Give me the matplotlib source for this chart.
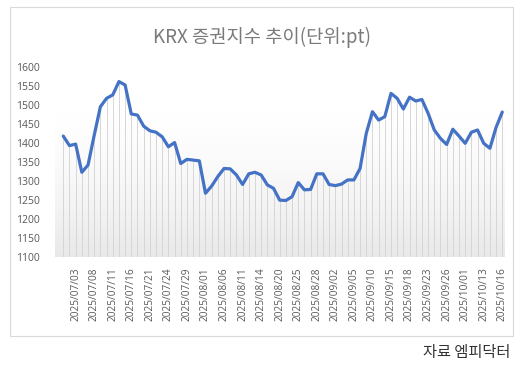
import matplotlib.pyplot as plt
import numpy as np
from matplotlib.colors import LinearSegmentedColormap
from matplotlib.patches import Rectangle

plt.rcParams["font.family"] = ["Noto Sans CJK KR", "DejaVu Sans"]

# trading days 2025-07-01 .. 2025-10-16
dates = [
    "07/01", "07/02", "07/03", "07/04", "07/07", "07/08", "07/09", "07/10", "07/11",
    "07/14", "07/15", "07/16", "07/17", "07/18", "07/21", "07/22", "07/23", "07/24",
    "07/25", "07/28", "07/29", "07/30", "07/31",
    "08/01", "08/04", "08/05", "08/06", "08/07", "08/08", "08/11", "08/12", "08/13",
    "08/14", "08/18", "08/19", "08/20", "08/21", "08/22", "08/25", "08/26", "08/27",
    "08/28", "08/29",
    "09/01", "09/02", "09/03", "09/04", "09/05", "09/08", "09/09", "09/10", "09/11",
    "09/12", "09/15", "09/16", "09/17", "09/18", "09/19", "09/22", "09/23", "09/24",
    "09/25", "09/26", "09/29", "09/30",
    "10/01", "10/02", "10/10", "10/13", "10/14", "10/15", "10/16",
]
dates = ["2025/" + d for d in dates]

values = [
    1418, 1393, 1397, 1323, 1342, 1420, 1495, 1517, 1526, 1561,
    1552, 1476, 1473, 1444, 1432, 1428, 1416, 1390, 1401, 1346,
    1357, 1355, 1353, 1268, 1287, 1312, 1333, 1332, 1316, 1291,
    1319, 1323, 1316, 1290, 1281, 1250, 1249, 1259, 1296, 1277,
    1278, 1319, 1319, 1291, 1288, 1292, 1303, 1303, 1333, 1425,
    1482, 1460, 1469, 1530, 1517, 1489, 1520, 1510, 1514, 1478,
    1434, 1412, 1396, 1436, 1418, 1399, 1428, 1434, 1399, 1386,
    1441, 1481,
]

title = "KRX 증권지수 추이(단위:pt)"
source = "자료 엠피닥터"
yticks = [1100, 1150, 1200, 1250, 1300, 1350, 1400, 1450, 1500, 1550, 1600]

W, H = 530, 371
fig = plt.figure(figsize=(W / 100, H / 100), dpi=100)

# chart frame
fig.patches.append(Rectangle((10 / W, 1 - 336 / H), 503 / W, 329 / H,
                             transform=fig.transFigure, fill=False,
                             edgecolor="#d9d9d9", linewidth=0.8))

ax = fig.add_axes([55 / W, 1 - 257.3 / H, 450 / W, 190.6 / H])
x = np.arange(len(values))
x0, x1 = -1.34, len(values) - 1 + 0.44

# plot-area gradient (white top -> light grey bottom)
grad = np.linspace(0, 1, 256).reshape(-1, 1)
cmap = LinearSegmentedColormap.from_list(
    "g", ["#e9e9e9", "#f3f3f3", "#fbfbfb", "#ffffff", "#ffffff"])
ax.imshow(grad, extent=(x0, x1, 1100, 1600), aspect="auto", cmap=cmap,
          origin="lower", zorder=0)

ax.vlines(x, 1100, values, color="#d6d6d6", linewidth=0.7, zorder=1)
ax.plot(x, values, color="#4472c4", linewidth=2.3, zorder=3,
        solid_joinstyle="round", solid_capstyle="round")

ax.set_xlim(x0, x1)
ax.set_ylim(1100, 1600)
ax.set_yticks(yticks)
ax.set_yticklabels([str(v) for v in yticks], family="Open Sans")
tick_idx = list(range(2, len(values), 3))
ax.set_xticks(tick_idx)
ax.set_xticklabels([dates[i] for i in tick_idx], rotation=90, family="Open Sans")
ax.tick_params(axis="y", length=0, labelsize=7.5, colors="#595959", pad=11)
ax.tick_params(axis="x", length=0, labelsize=7.3, colors="#595959", pad=7)
for s in ax.spines.values():
    s.set_visible(False)

fig.text(262 / W, 1 - 37 / H, title, ha="center", va="center",
         fontsize=13.5, color="#7a7a7a")
fig.text(510 / W, 1 - 352 / H, source, ha="right", va="center",
         fontsize=11, color="#333333")

fig.savefig("out.png", dpi=100)
